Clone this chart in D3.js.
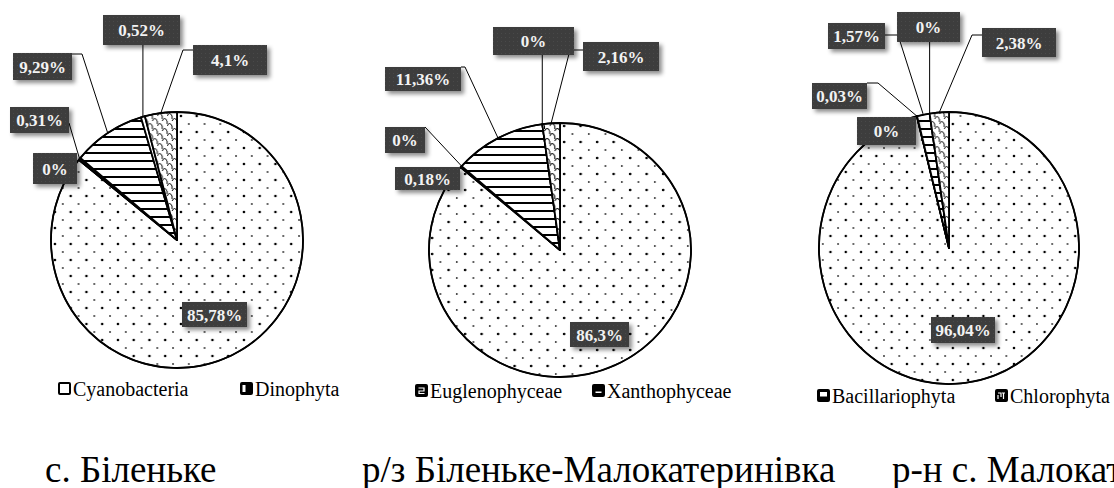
<!DOCTYPE html>
<html>
<head>
    <meta charset="utf-8">
    <script src="https://d3js.org/d3.v7.min.js"></script>
    <style>
        body { margin: 0; background: #ffffff; }
    </style>
</head>
<body>
    <svg id="chart" width="1114" height="488"></svg>
    <script>
        // groups, in the order they are drawn clockwise from 12 o'clock
        const categories = ["Cyanobacteria", "Dinophyta", "Euglenophyceae", "Xanthophyceae", "Bacillariophyta", "Chlorophyta"];
        const siteNames = ["с. Біленьке", "р/з Біленьке-Малокатеринівка", "р-н с. Малокатеринівка"];

        // share of each group, %
        const sharesBilenke = [85.78, 0, 0.31, 9.29, 0.52, 4.1];
        const sharesReserve = [86.3, 0.18, 0, 11.36, 0, 2.16];
        const sharesMalokat = [96.04, 0, 0.03, 1.57, 0, 2.38];

        var SERIF = "'Liberation Serif', 'DejaVu Serif', serif";

        // where each pie sits and where its data labels go
        // box: [x, y, w, h, side, attachY, stubX]
        var pies = [
            {
                values: sharesBilenke, cx: 177, cy: 240, rx: 126, ry: 128,
                boxes: [
                    [182, 302, 65, 25],
                    [33, 153, 44, 31],
                    [10, 107, 59, 26, "r", 123, 69],
                    [13, 53, 59, 27, "r", 54, 82],
                    [103, 15, 77, 30, "b"],
                    [193, 45, 74, 30, "l", 50, 183]
                ]
            },
            {
                values: sharesReserve, cx: 560, cy: 250, rx: 131, ry: 127,
                boxes: [
                    [570, 322, 59, 25],
                    [395, 167, 65, 23],
                    [385, 127, 40, 26, "r", 127, 425],
                    [385, 67, 76, 24, "r", 67, 465],
                    [493, 27, 81, 28, "b"],
                    [583, 42, 76, 29, "l", 50, 570]
                ]
            },
            {
                values: sharesMalokat, cx: 949, cy: 248, rx: 130, ry: 136,
                boxes: [
                    [931, 317, 64, 26],
                    [857, 117, 59, 28],
                    [812, 83, 55, 26, "r", 83, 878],
                    [828, 23, 57, 26, "r", 35, 898],
                    [897, 12, 63, 30, "b"],
                    [982, 28, 74, 29, "l", 35, 972]
                ]
            }
        ];

        var legendX = [58, 240, 415, 592, 817, 995];
        var legendY = [396, 396, 398, 398, 403, 403];
        var titleX = [45, 362, 892];
        var titleY = 482;

        var svg = d3.select("#chart");
        var defs = svg.append("defs");

        // fill patterns, one per group
        var pDots = defs.append("pattern").attr("id", "p0")
            .attr("patternUnits", "userSpaceOnUse").attr("width", 16).attr("height", 16);
        pDots.append("rect").attr("width", 16).attr("height", 16).attr("fill", "#fff");
        pDots.append("circle").attr("cx", 4).attr("cy", 4).attr("r", 1.3).attr("fill", "#000");
        pDots.append("circle").attr("cx", 12).attr("cy", 12).attr("r", 0.9).attr("fill", "#222");

        var pBlack = defs.append("pattern").attr("id", "p1")
            .attr("patternUnits", "userSpaceOnUse").attr("width", 4).attr("height", 4);
        pBlack.append("rect").attr("width", 4).attr("height", 4).attr("fill", "#000");

        var pEug = defs.append("pattern").attr("id", "p2")
            .attr("patternUnits", "userSpaceOnUse").attr("width", 4).attr("height", 4);
        pEug.append("rect").attr("width", 4).attr("height", 4).attr("fill", "#111");

        var pLines = defs.append("pattern").attr("id", "p3")
            .attr("patternUnits", "userSpaceOnUse").attr("width", 8).attr("height", 8);
        pLines.append("rect").attr("width", 8).attr("height", 8).attr("fill", "#fff");
        pLines.append("rect").attr("y", 0).attr("width", 8).attr("height", 2).attr("fill", "#000");

        var pBac = defs.append("pattern").attr("id", "p4")
            .attr("patternUnits", "userSpaceOnUse").attr("width", 4).attr("height", 4);
        pBac.append("rect").attr("width", 4).attr("height", 4).attr("fill", "#fff");

        var pScal = defs.append("pattern").attr("id", "p5")
            .attr("patternUnits", "userSpaceOnUse").attr("width", 10).attr("height", 10);
        pScal.append("rect").attr("width", 10).attr("height", 10).attr("fill", "#fff");
        pScal.append("path")
            .attr("d", "M0,6 Q2.5,1 5,6 M5,1 Q7.5,-4 10,1 M5,11 Q7.5,6 10,11 M5,6 L5,9 M0,1 L0,4 M10,1 L10,4")
            .attr("fill", "none").attr("stroke", "#000").attr("stroke-width", 1);

        // dark label boxes
        var pBox = defs.append("pattern").attr("id", "pbox")
            .attr("patternUnits", "userSpaceOnUse").attr("width", 4).attr("height", 4);
        pBox.append("rect").attr("width", 4).attr("height", 4).attr("fill", "#3d3d3d");
        pBox.append("rect").attr("x", 1).attr("y", 1).attr("width", 1).attr("height", 1).attr("fill", "#4a4a4a");

        var shadow = defs.append("filter").attr("id", "shadow")
            .attr("x", "-20%").attr("y", "-20%").attr("width", "150%").attr("height", "160%");
        shadow.append("feDropShadow").attr("dx", 3).attr("dy", 3)
            .attr("stdDeviation", 2).attr("flood-color", "#000").attr("flood-opacity", 0.45);

        // small legend keys, drawn like the reference's glyph-style swatches
        function legendKey(x, y, i) {
            var k = svg.append("g").attr("transform", "translate(" + x + "," + (y - 14) + ")");
            k.append("rect").attr("x", 1).attr("y", 1).attr("width", 11).attr("height", 11)
                .attr("rx", 1).attr("fill", i == 0 ? "#fff" : "#000")
                .attr("stroke", "#000").attr("stroke-width", 2);
            if (i == 1) {
                k.append("rect").attr("x", 2.5).attr("y", 3).attr("width", 3).attr("height", 7).attr("fill", "#fff");
            } else if (i == 2) {
                k.append("path").attr("d", "M3.5,4 L9,4 L9,7 L4,7 L4,9.5 L9.5,9.5")
                    .attr("fill", "none").attr("stroke", "#fff").attr("stroke-width", 1.2);
            } else if (i == 3) {
                k.append("rect").attr("x", 3.5).attr("y", 7.5).attr("width", 6).attr("height", 1.5).attr("fill", "#fff");
            } else if (i == 4) {
                k.append("rect").attr("x", 3).attr("y", 3).attr("width", 7).attr("height", 4.5).attr("fill", "#fff");
            } else if (i == 5) {
                k.append("path").attr("d", "M3,4 L6,4 L6,8 M7,4 L10,4 M8.5,4 L8.5,10 M3,6 L3,10")
                    .attr("fill", "none").attr("stroke", "#fff").attr("stroke-width", 1.2);
            }
        }

        var pie = d3.pie().sort(null).value(function (d) { return d; });
        var fmt = function (v) { return String(v).replace(".", ",") + "%"; };

        pies.forEach(function (p, k) {
            var r = p.ry;
            var arc = d3.arc().innerRadius(0).outerRadius(r);
            var slices = pie(p.values);

            var g = svg.append("g")
                .attr("transform", "translate(" + p.cx + "," + p.cy + ") scale(" + (p.rx / p.ry) + ",1)");

            g.selectAll("path.slice")
                .data(slices)
                .enter()
                .append("path")
                .attr("class", "slice")
                .attr("d", arc)
                .attr("fill", function (d, i) { return "url(#p" + i + ")"; })
                .attr("stroke", "#000")
                .attr("stroke-width", 1.8)
                .attr("stroke-linejoin", "round")
                .attr("vector-effect", "non-scaling-stroke");

            g.append("ellipse")
                .attr("rx", r).attr("ry", r)
                .attr("fill", "none")
                .attr("stroke", "#000")
                .attr("stroke-width", 1.5)
                .attr("vector-effect", "non-scaling-stroke");

            // leader lines
            slices.forEach(function (d, i) {
                var b = p.boxes[i];
                if (b.length < 5) return;
                var a = (d.startAngle + d.endAngle) / 2;
                var px = p.cx + p.rx * Math.sin(a);
                var py = p.cy - p.ry * Math.cos(a);
                var path;
                if (b[4] == "b") {
                    path = "M" + px + "," + (b[1] + b[3]) + "L" + px + "," + py;
                } else {
                    var ex = b[4] == "l" ? b[0] : b[0] + b[2];
                    path = "M" + ex + "," + b[5] + "L" + b[6] + "," + b[5] + "L" + px + "," + py;
                }
                svg.append("path")
                    .attr("d", path)
                    .attr("fill", "none")
                    .attr("stroke", "#000")
                    .attr("stroke-width", 1);
            });

            // data labels
            slices.forEach(function (d, i) {
                var b = p.boxes[i];
                var lg = svg.append("g");
                lg.append("rect")
                    .attr("x", b[0]).attr("y", b[1])
                    .attr("width", b[2]).attr("height", b[3])
                    .attr("fill", "url(#pbox)")
                    .attr("filter", "url(#shadow)");
                lg.append("text")
                    .attr("x", b[0] + b[2] / 2)
                    .attr("y", b[1] + b[3] / 2 + 6)
                    .attr("text-anchor", "middle")
                    .attr("font-family", SERIF)
                    .attr("font-size", 17)
                    .attr("font-weight", "bold")
                    .attr("fill", "#f2f2f2")
                    .text(fmt(d.data));
            });

            svg.append("text")
                .attr("x", titleX[k])
                .attr("y", titleY)
                .attr("font-family", SERIF)
                .attr("font-size", 37)
                .attr("fill", "#000")
                .text(siteNames[k]);
        });

        // legend, spread under the three pies
        categories.forEach(function (c, i) {
            legendKey(legendX[i], legendY[i], i);
            svg.append("text")
                .attr("x", legendX[i] + 15)
                .attr("y", legendY[i])
                .attr("font-family", SERIF)
                .attr("font-size", 20)
                .attr("fill", "#000")
                .text(c);
        });
    </script>
</body>
</html>
